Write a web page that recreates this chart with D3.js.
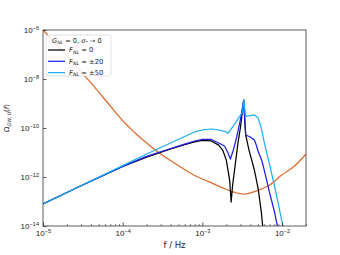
<!DOCTYPE html>
<html>
<head>
<meta charset="utf-8">
<script src="https://cdn.jsdelivr.net/npm/d3@7"></script>
<style>
  body { margin: 0; background: #fff; }
  svg { display: block; font-family: "DejaVu Sans", sans-serif; }
</style>
</head>
<body>
<div id="chart"></div>
<script>
// frequencies (Hz) and Omega_GW,0
const fBlack  = [1e-5, 3e-5, 1e-4, 2e-4, 4e-4, 6e-4, 8e-4, 1e-3, 1.3e-3, 1.6e-3, 1.8e-3, 2e-3, 2.2e-3, 2.3e-3, 2.4e-3, 2.6e-3, 2.8e-3, 3e-3, 3.2e-3, 3.3e-3, 3.5e-3, 3.85e-3, 4.5e-3, 5e-3, 5.5e-3, 5.75e-3];
const omBlack = [7.9e-14, 4.4e-13, 2.7e-12, 6.5e-12, 1.39e-11, 2.1e-11, 2.7e-11, 3.1e-11, 2.95e-11, 2.0e-11, 1.26e-11, 4.9e-12, 7.5e-13, 9.5e-14, 4.7e-13, 3.7e-12, 2.45e-11, 1.0e-10, 5.4e-10, 1.39e-9, 5.2e-11, 1.26e-11, 1.93e-12, 3.6e-13, 3.7e-14, 8.3e-15];

const fBlue  = [1e-5, 3e-5, 1e-4, 2e-4, 4e-4, 6e-4, 8e-4, 1e-3, 1.3e-3, 1.6e-3, 1.9e-3, 2.1e-3, 2.25e-3, 2.45e-3, 2.7e-3, 3e-3, 3.3e-3, 3.5e-3, 4e-3, 4.5e-3, 4.8e-3, 5e-3, 5.6e-3, 6.2e-3, 7e-3, 8e-3, 8.8e-3];
const omBlue = [7.9e-14, 4.4e-13, 2.7e-12, 6.9e-12, 1.46e-11, 2.2e-11, 2.95e-11, 3.4e-11, 3.4e-11, 2.45e-11, 1.84e-11, 9.5e-12, 5.4e-12, 1.26e-11, 4.3e-11, 2.1e-10, 1.39e-9, 5.2e-11, 4.3e-11, 3.25e-11, 1.84e-11, 1.15e-11, 4.5e-12, 1.2e-12, 2.2e-13, 4.1e-14, 9.1e-15];

const fCyan  = [1e-5, 3e-5, 1e-4, 2e-4, 4e-4, 6e-4, 8e-4, 1e-3, 1.3e-3, 1.6e-3, 2e-3, 2.1e-3, 2.5e-3, 2.9e-3, 3.2e-3, 3.3e-3, 3.5e-3, 4e-3, 4.5e-3, 5e-3, 5.5e-3, 6e-3, 7e-3, 8e-3, 9e-3, 1e-2, 1.04e-2];
const omCyan = [7.9e-14, 4.4e-13, 2.9e-12, 8.7e-12, 2.45e-11, 4.5e-11, 6.9e-11, 8.3e-11, 9.1e-11, 8.3e-11, 6.9e-11, 6.1e-11, 1.33e-10, 2.8e-10, 4.5e-10, 1.39e-9, 2.95e-10, 3.2e-10, 3.4e-10, 2.6e-10, 1.0e-10, 2.45e-11, 3.1e-12, 4.7e-13, 7.9e-14, 1.46e-14, 8.3e-15];

// sensitivity curve (orange)
const fSens  = [1e-5, 2e-5, 4e-5, 7e-5, 1e-4, 1.2e-4, 1.5e-4, 2e-4, 3e-4, 5e-4, 8e-4, 1.2e-3, 1.8e-3, 2.5e-3, 3.3e-3, 4.2e-3, 5.5e-3, 7e-3, 1e-2, 1.4e-2, 2e-2];
const omSens = [1e-6, 8.4e-8, 6.9e-9, 7.9e-10, 2.0e-10, 1.1e-10, 5.4e-11, 2.45e-11, 8.7e-12, 2.95e-12, 1.15e-12, 6.5e-13, 3.6e-13, 2.4e-13, 2.0e-13, 2.35e-13, 3.2e-13, 4.7e-13, 1.23e-12, 2.6e-12, 8.7e-12];

const xMajor = [1e-5, 1e-4, 1e-3, 1e-2];
const xLabels = ["5", "4", "3", "2"];
const yMajor = [1e-14, 1e-12, 1e-10, 1e-8, 1e-6];
const yLabels = ["14", "12", "10", "8", "6"];
const legendNames = ["0", "\u00b120", "\u00b150"];

const width = 340, height = 255;
const margin = {top: 30, right: 34, bottom: 29, left: 43};

const x = d3.scaleLog().domain([1e-5, 2e-2]).range([margin.left, width - margin.right]);
const y = d3.scaleLog().domain([1e-14, 1e-6]).range([height - margin.bottom, margin.top]);

const svg = d3.select("#chart").append("svg")
    .attr("width", width)
    .attr("height", height)
    .attr("viewBox", [0, 0, width, height]);

svg.append("clipPath").attr("id", "clip")
  .append("rect")
    .attr("x", margin.left).attr("y", margin.top)
    .attr("width", width - margin.left - margin.right)
    .attr("height", height - margin.top - margin.bottom);

const line = d3.line().x(d => x(d[0])).y(d => y(d[1]));
const smooth = d3.line().x(d => x(d[0])).y(d => y(d[1])).curve(d3.curveMonotoneX);
const zip = (a, b) => a.map((v, i) => [v, b[i]]);

const series = [
  {f: fSens,  om: omSens,  color: "#dc6a28", gen: smooth},
  {f: fBlack, om: omBlack, color: "#000000", gen: line},
  {f: fBlue,  om: omBlue,  color: "#1f1fe6", gen: line},
  {f: fCyan,  om: omCyan,  color: "#1cb0f0", gen: line}
];

svg.append("g").attr("clip-path", "url(#clip)")
  .selectAll("path")
  .data(series)
  .join("path")
    .attr("fill", "none")
    .attr("stroke", d => d.color)
    .attr("stroke-width", 1.25)
    .attr("stroke-linejoin", "round")
    .attr("d", d => d.gen(zip(d.f, d.om)));

function powLabel(sel, exps) {
  sel.each(function(d, i) {
    const t = d3.select(this).text(null);
    t.append("tspan").text("10");
    t.append("tspan").attr("dy", "-0.5em").attr("font-size", "5.6px").text("\u2212" + exps[i]);
  });
}

// minor x ticks
const xMinor = [];
for (let e = -5; e <= -2; e++) for (let m = 2; m <= 9; m++) {
  const v = m * Math.pow(10, e);
  if (v <= 2e-2) xMinor.push(v);
}

svg.append("g")
    .attr("transform", `translate(0,${height - margin.bottom})`)
    .call(d3.axisBottom(x).tickValues(xMinor).tickSizeInner(-2).tickSizeOuter(0).tickFormat(""))
    .call(g => g.select(".domain").remove())
    .call(g => g.selectAll("line").attr("stroke", "#333").attr("stroke-width", 0.6));

svg.append("g")
    .attr("transform", `translate(0,${height - margin.bottom})`)
    .call(d3.axisBottom(x).tickValues(xMajor).tickSizeInner(-3.5).tickSizeOuter(0).tickPadding(4))
    .call(g => g.select(".domain").remove())
    .call(g => g.selectAll("line").attr("stroke", "#333").attr("stroke-width", 0.8))
    .call(g => g.selectAll("text").attr("font-size", "8px").attr("fill", "#222").call(powLabel, xLabels));

svg.append("g")
    .attr("transform", `translate(${margin.left},0)`)
    .call(d3.axisLeft(y).tickValues(yMajor).tickSizeInner(-3.5).tickSizeOuter(0).tickPadding(4))
    .call(g => g.select(".domain").remove())
    .call(g => g.selectAll("line").attr("stroke", "#333").attr("stroke-width", 0.8))
    .call(g => g.selectAll("text").attr("font-size", "8px").attr("fill", "#222").call(powLabel, yLabels));

// frame
svg.append("rect")
    .attr("x", margin.left).attr("y", margin.top)
    .attr("width", width - margin.left - margin.right)
    .attr("height", height - margin.top - margin.bottom)
    .attr("fill", "none").attr("stroke", "#333").attr("stroke-width", 0.8);

// axis labels
svg.append("text")
    .attr("x", (margin.left + width - margin.right) / 2)
    .attr("y", 248)
    .attr("text-anchor", "middle")
    .attr("font-size", "8.5px")
    .attr("fill", "#222")
    .text("f / Hz");

const yl = svg.append("text")
    .attr("transform", "translate(9,118) rotate(-90)")
    .attr("text-anchor", "middle")
    .attr("font-size", "7px")
    .attr("fill", "#222");
yl.append("tspan").text("\u03a9");
yl.append("tspan").attr("font-size", "4.8px").attr("dy", "1.8").attr("font-style", "italic").text("GW");
yl.append("tspan").attr("font-size", "4.8px").text(", 0");
yl.append("tspan").attr("dy", "-1.8").text("(");
yl.append("tspan").attr("font-style", "italic").text("f");
yl.append("tspan").text(")");

// legend
const legend = svg.append("g");
legend.append("rect")
    .attr("x", 46).attr("y", 35).attr("width", 65).attr("height", 41).attr("rx", 2)
    .attr("fill", "#fff").attr("fill-opacity", 0.85)
    .attr("stroke", "#ccc").attr("stroke-width", 0.6);

const title = legend.append("text").attr("x", 52).attr("y", 42.5).attr("font-size", "6.6px").attr("fill", "#222");
title.append("tspan").attr("font-style", "italic").text("G");
title.append("tspan").attr("font-style", "italic").attr("font-size", "4.6px").attr("dy", "1.3").text("NL");
title.append("tspan").attr("dy", "-1.3").text(" = 0, ");
title.append("tspan").attr("font-style", "italic").text("\u03c3");
title.append("tspan").attr("font-size", "4.6px").attr("dy", "1.3").text("*");
title.append("tspan").attr("dy", "-1.3").text(" \u2192 0");

const entries = legend.selectAll("g.entry")
  .data(series.slice(1))
  .join("g")
    .attr("class", "entry")
    .attr("transform", (d, i) => `translate(0,${50 + i * 11.3})`);

entries.append("line")
    .attr("x1", 48).attr("x2", 65)
    .attr("stroke", d => d.color).attr("stroke-width", 1.25);

entries.each(function(d, i) {
  const t = d3.select(this).append("text")
      .attr("x", 69).attr("y", 2.4).attr("font-size", "6.8px").attr("fill", "#222");
  t.append("tspan").attr("font-style", "italic").text("F");
  t.append("tspan").attr("font-style", "italic").attr("font-size", "4.7px").attr("dy", "1.3").text("NL");
  t.append("tspan").attr("dy", "-1.3").text(" = " + legendNames[i]);
});
</script>
</body>
</html>
